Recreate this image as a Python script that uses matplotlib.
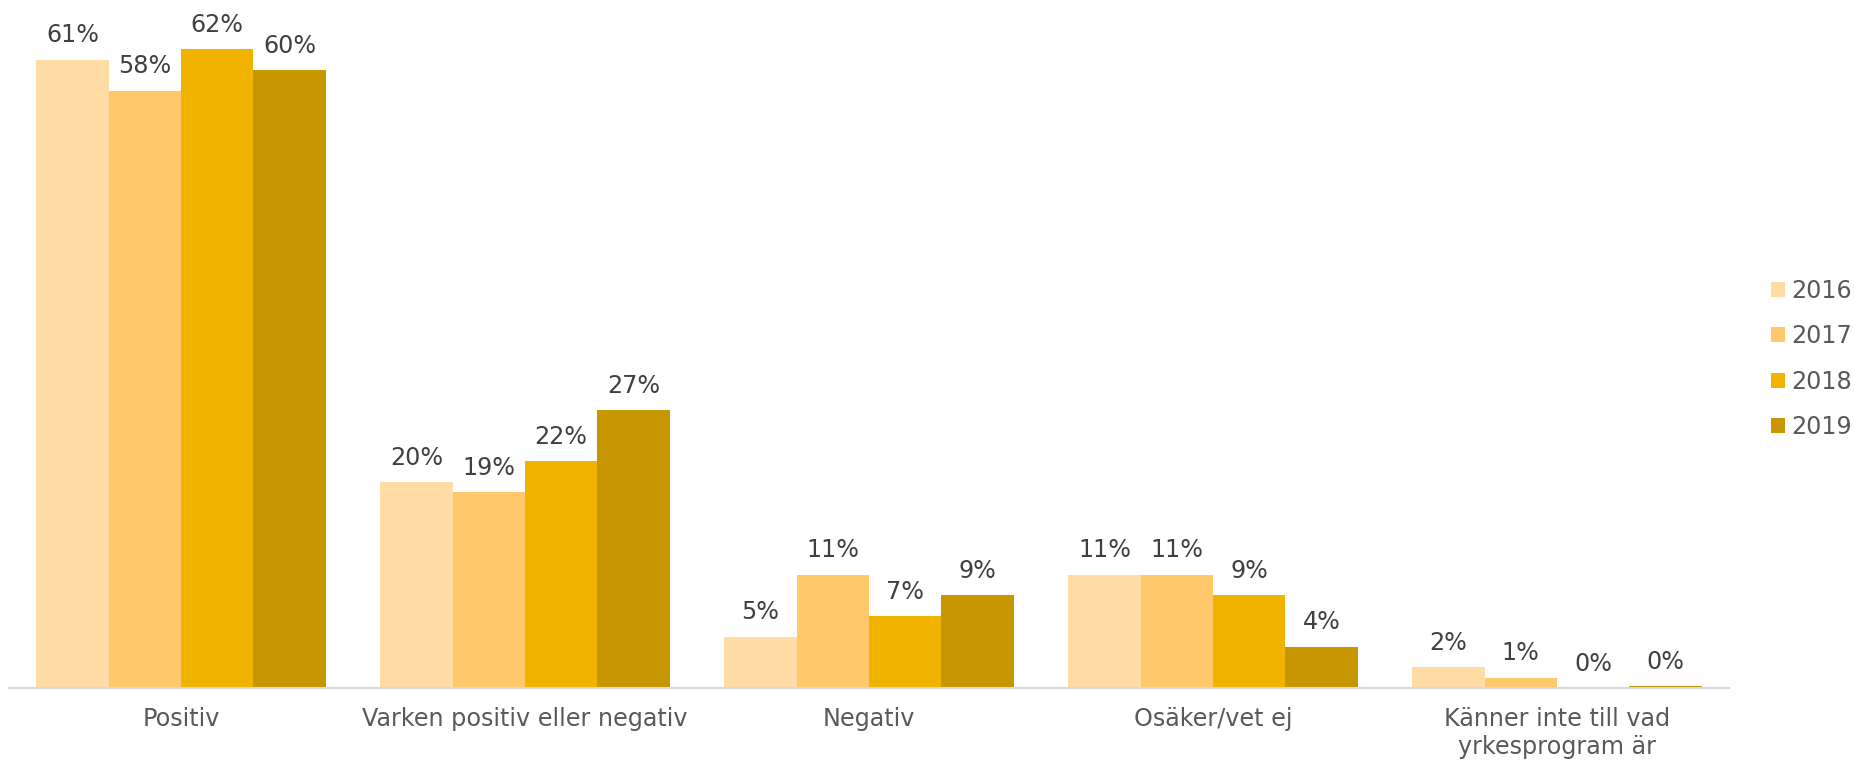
import matplotlib
matplotlib.use("Agg")
import matplotlib.pyplot as plt
import numpy as np

plt.rcParams['font.family'] = ['DejaVu Sans']

categories = ["Positiv", "Varken positiv eller negativ", "Negativ", "Osäker/vet ej",
              "Känner inte till vad\nyrkesprogram är"]
years = ["2016", "2017", "2018", "2019"]
v2016 = [61, 20, 5, 11, 2]
v2017 = [58, 19, 11, 11, 1]
v2018 = [62, 22, 7, 9, 0]
v2019 = [60, 27, 9, 4, 0.2]
series = [v2016, v2017, v2018, v2019]
colors = ["#FFDBA6", "#FFC86A", "#F0B400", "#C89600"]

W, H, DPI = 1854, 762, 100
fig = plt.figure(figsize=(W / DPI, H / DPI), dpi=DPI)
px_per_pct = 10.3
ymax = 65
ax_h = ymax * px_per_pct
ax = fig.add_axes([9 / W, (H - 688) / H, 1720 / W, ax_h / H])

x = np.arange(len(categories))
bw = 1 / 4.754
fs = 17.2
for i, (vals, col, yr) in enumerate(zip(series, colors, years)):
    pos = x + (i - 1.5) * bw
    ax.bar(pos, vals, width=bw, color=col, label=yr, edgecolor='none')
    for xp, v in zip(pos, vals):
        ax.annotate(f"{round(v)}%", (xp, v), xytext=(0, 12.5), textcoords='offset points',
                    ha='center', va='baseline', fontsize=fs, color='#404040')

ax.set_xlim(-0.5, len(categories) - 0.5)
ax.set_ylim(0, ymax)
ax.set_yticks([])
ax.set_xticks(x)
ax.set_xticklabels(categories, fontsize=fs, color='#595959', linespacing=1.18)
ax.tick_params(axis='x', length=0, pad=14)
for s in ['top', 'left', 'right']:
    ax.spines[s].set_visible(False)
ax.spines['bottom'].set_color('#D9D9D9')
ax.spines['bottom'].set_linewidth(1.5)

fig.legend(loc='center left', bbox_to_anchor=(1771 / W, (H - 359) / H), frameon=False,
           fontsize=fs, handlelength=0.6, handleheight=0.6, handletextpad=0.25,
           labelspacing=0.9, borderpad=0, borderaxespad=0, labelcolor='#595959')

fig.savefig("out.png", dpi=DPI)
